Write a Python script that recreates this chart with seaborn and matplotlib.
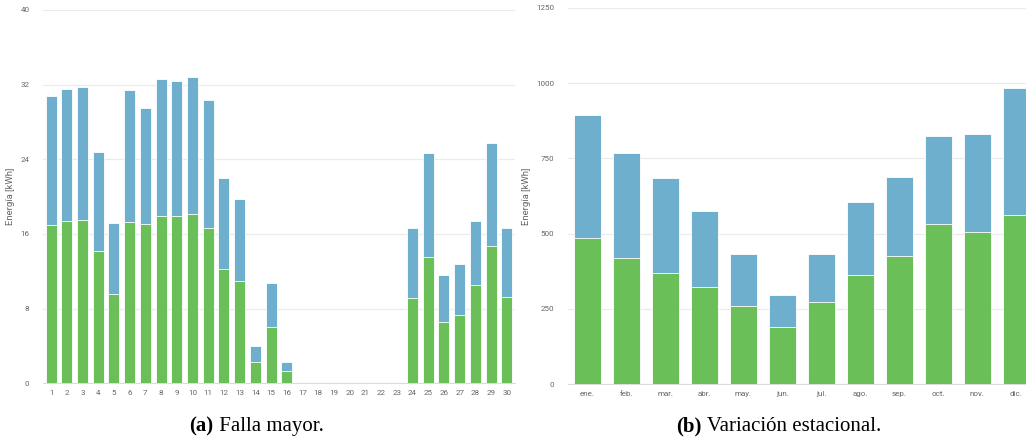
import numpy as np
import pandas as pd
import matplotlib
matplotlib.use("Agg")
import matplotlib.pyplot as plt
import seaborn as sns

# Daily energy (kWh) for a month with a major failure
days = [str(d) for d in range(1, 31)]
daily_green = [17.0, 17.4, 17.5, 14.2, 9.6, 17.3, 17.1, 17.9, 17.9, 18.1,
               16.6, 12.3, 11.0, 2.25, 6.0, 1.35, 0, 0, 0, 0,
               0, 0, 0, 9.1, 13.5, 6.6, 7.3, 10.5, 14.7, 9.2]
daily_blue = [13.75, 14.1, 14.3, 10.55, 7.6, 14.1, 12.4, 14.7, 14.5, 14.7,
              13.8, 9.7, 8.8, 1.7, 4.8, 0.95, 0, 0, 0, 0,
              0, 0, 0, 7.5, 11.2, 5.0, 5.45, 6.9, 11.0, 7.4]

# Monthly energy (kWh) over a year
months = ["ene.", "feb.", "mar.", "abr.", "may.", "jun.",
          "jul.", "ago.", "sep.", "oct.", "nov.", "dic."]
monthly_green = [486, 420, 371, 324, 260, 189, 274, 364, 427, 533, 506, 562]
monthly_blue = [407, 347, 315, 251, 174, 108, 157, 240, 261, 290, 324, 421]

GREEN = "#6bbf59"
BLUE = "#6fafce"
GRID = "#ebebeb"
TICK = "#666666"

sns.set_theme(style="white")
plt.rcParams["font.family"] = ["Roboto", "DejaVu Sans"]

fig = plt.figure(figsize=(10.26, 4.44), dpi=100)
ax1 = fig.add_axes([0.0422, 0.1367, 0.4594, 0.8408])
ax2 = fig.add_axes([0.5536, 0.1345, 0.4561, 0.8480])


def stacked(ax, cats, lower, upper, ymax, yticks):
    total = [a + b for a, b in zip(lower, upper)]
    df = pd.DataFrame({"cat": cats, "total": total, "lower": lower})
    sns.barplot(data=df, x="cat", y="total", color=BLUE, saturation=1,
                width=0.7, edgecolor="white", linewidth=0.6, ax=ax, zorder=3)
    sns.barplot(data=df, x="cat", y="lower", color=GREEN, saturation=1,
                width=0.7, edgecolor="white", linewidth=0.6, ax=ax, zorder=4)
    ax.set_ylim(0, ymax)
    ax.set_xlim(-0.5, len(cats) - 0.5)
    ax.set_yticks(yticks)
    ax.yaxis.grid(True, color=GRID, linewidth=0.9, zorder=0)
    ax.xaxis.grid(False)
    for s in ["top", "right", "left"]:
        ax.spines[s].set_visible(False)
    ax.spines["bottom"].set_color("#dcdcdc")
    ax.spines["bottom"].set_linewidth(0.8)
    ax.tick_params(axis="both", length=0, labelsize=5.8, labelcolor=TICK)
    ax.tick_params(axis="y", pad=10)
    ax.tick_params(axis="x", pad=5)
    ax.set_xlabel("")
    ax.set_ylabel("Energía [kWh]", fontsize=6.8, color=TICK, labelpad=4)
    ax.set_facecolor("white")


stacked(ax1, days, daily_green, daily_blue, 40, [0, 8, 16, 24, 32, 40])
stacked(ax2, months, monthly_green, monthly_blue, 1250,
        [0, 250, 500, 750, 1000, 1250])

# Sub-captions: bold label followed by regular text, centred as a group
renderer = fig.canvas.get_renderer()
W = fig.bbox.width


def caption(cx_px, label, text, y=0.04, size=15):
    kw = dict(fontsize=size, family="Liberation Serif", va="center",
              color="black")
    t1 = fig.text(0, y, label, fontweight="bold", ha="left", **kw)
    t2 = fig.text(0, y, " " + text, ha="left", **kw)
    w1 = t1.get_window_extent(renderer).width
    w2 = t2.get_window_extent(renderer).width
    x0 = cx_px - (w1 + w2) / 2
    t1.set_x(x0 / W)
    t2.set_x((x0 + w1) / W)


caption(256.5, "(a)", "Falla mayor.")
caption(778.5, "(b)", "Variación estacional.")

fig.savefig("out.png", dpi=100)
